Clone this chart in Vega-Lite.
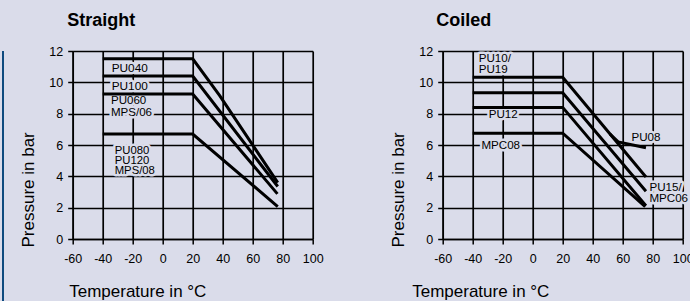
{
  "$schema": "https://vega.github.io/schema/vega-lite/v6.json",
  "background": "#dadcea",
  "padding": {"left": 0, "top": 12, "right": 0, "bottom": 0},
  "spacing": 13.7,
  "config": {
    "view": {"stroke": null},
    "font": "Liberation Sans",
    "axis": {
      "domainColor": "black", "domainWidth": 1.5,
      "tickColor": "black", "tickWidth": 1.5, "tickSize": 5, "tickCount": 30,
      "grid": true, "gridColor": "black", "gridWidth": 1.7, "gridOpacity": 1,
      "labelColor": "black", "labelFont": "Liberation Sans", "labelFontSize": 12.5,
      "labelExpr": "'' + datum.value", "labelFlush": false,
      "titleColor": "black", "titleFont": "Liberation Sans",
      "titleFontSize": 17, "titleFontWeight": "normal"
    },
    "title": {"font": "Liberation Sans", "fontSize": 18, "fontWeight": "bold", "color": "black", "anchor": "start", "frame": "group"}
  },
  "datasets": {
    "straight": [
      {"s": "PU040", "t": -40, "p": 11.5}, {"s": "PU040", "t": 20, "p": 11.5}, {"s": "PU040", "t": 38, "p": 9.15}, {"s": "PU040", "t": 76.7, "p": 3.6},
      {"s": "PU100", "t": -40, "p": 10.4}, {"s": "PU100", "t": 20, "p": 10.4}, {"s": "PU100", "t": 76.7, "p": 3.35},
      {"s": "PU060", "t": -40, "p": 9.25}, {"s": "PU060", "t": 20, "p": 9.25}, {"s": "PU060", "t": 76.5, "p": 2.88},
      {"s": "PU080", "t": -40, "p": 6.7}, {"s": "PU080", "t": 20, "p": 6.7}, {"s": "PU080", "t": 76.7, "p": 2.07}
    ],
    "straightLabels": [
      {"label": "PU040", "t": -34, "p": 10.93, "g": "a"},
      {"label": "PU100", "t": -34, "p": 9.78, "g": "a"},
      {"label": "PU060", "t": -34.5, "p": 8.8, "g": "b"},
      {"label": "MPS/06", "t": -34.5, "p": 8.02, "g": "b"},
      {"label": "PU080", "t": -32, "p": 5.62, "g": "c"},
      {"label": "PU120", "t": -32, "p": 4.98, "g": "c"},
      {"label": "MPS/08", "t": -32, "p": 4.34, "g": "c"}
    ],
    "coiled": [
      {"s": "PU10/PU19", "t": -40, "p": 10.32}, {"s": "PU10/PU19", "t": 20, "p": 10.32}, {"s": "PU10/PU19", "t": 75.5, "p": 3.96},
      {"s": "B", "t": -40, "p": 9.34}, {"s": "B", "t": 20, "p": 9.34}, {"s": "B", "t": 75.5, "p": 3.05},
      {"s": "PU12", "t": -40, "p": 8.4}, {"s": "PU12", "t": 20, "p": 8.4}, {"s": "PU12", "t": 75.5, "p": 2.12},
      {"s": "MPC08", "t": -40, "p": 6.75}, {"s": "MPC08", "t": 20, "p": 6.75}, {"s": "MPC08", "t": 75, "p": 2.07},
      {"s": "PU08", "t": 51.5, "p": 6.7}, {"s": "PU08", "t": 57, "p": 6.2}, {"s": "PU08", "t": 75.5, "p": 5.83}
    ],
    "coiledLabels": [
      {"label": "PU10/", "t": -36, "p": 11.49, "g": "a"},
      {"label": "PU19", "t": -36, "p": 10.79, "g": "a"},
      {"label": "PU12", "t": -29.3, "p": 7.91, "g": "a"},
      {"label": "MPC08", "t": -34.2, "p": 5.96, "g": "a"},
      {"label": "PU08", "t": 65.8, "p": 6.47, "g": "a"},
      {"label": "PU15/", "t": 77.8, "p": 3.23, "g": "a"},
      {"label": "MPC06", "t": 77.8, "p": 2.55, "g": "a"}
    ]
  },
  "hconcat": [
    {
      "width": 2, "height": 288,
      "data": {"values": [{"k": 1}]},
      "mark": {"type": "point", "opacity": 0},
      "encoding": {},
      "view": {"fill": "#0e4a7e", "stroke": null}
    },
    {
      "spacing": 66,
      "hconcat": [
        {
          "width": 240, "height": 188,
          "title": {"text": "Straight", "dx": -5.5, "offset": 15},
          "layer": [
            {
              "data": {"name": "straightLabels"},
              "mark": {"type": "text", "align": "left", "baseline": "middle", "fill": "#dadcea", "stroke": "#dadcea", "strokeWidth": 5, "strokeJoin": "round"},
              "encoding": {
                "x": {"field": "t", "type": "quantitative", "scale": {"domain": [-60, 100], "nice": false},
                  "axis": {"values": [-60, -40, -20, 0, 20, 40, 60, 80, 100], "title": "Temperature in °C", "titleAnchor": "start", "titleAlign": "left", "titleX": -4, "titlePadding": 19, "labelPadding": 8}},
                "y": {"field": "p", "type": "quantitative", "scale": {"domain": [0, 12], "nice": false},
                  "axis": {"values": [0, 2, 4, 6, 8, 10, 12], "title": "Pressure in bar", "titleAnchor": "start", "titleAlign": "left", "titleY": 196, "titlePadding": 11, "labelPadding": 5}},
                "text": {"field": "label"},
                "size": {"field": "g", "type": "nominal", "scale": {"domain": ["a", "b", "c"], "range": [11.8, 11.3, 10]}, "legend": null}
              }
            },
            {
              "data": {"name": "straight"},
              "mark": {"type": "line", "color": "black", "strokeWidth": 3, "strokeCap": "butt", "strokeJoin": "miter"},
              "encoding": {
                "x": {"field": "t", "type": "quantitative"},
                "y": {"field": "p", "type": "quantitative"},
                "detail": {"field": "s"}
              }
            },
            {
              "data": {"name": "straightLabels"},
              "mark": {"type": "text", "align": "left", "baseline": "middle", "color": "black"},
              "encoding": {
                "x": {"field": "t", "type": "quantitative"},
                "y": {"field": "p", "type": "quantitative"},
                "text": {"field": "label"},
                "size": {"field": "g", "type": "nominal", "scale": {"domain": ["a", "b", "c"], "range": [11.8, 11.3, 10]}, "legend": null}
              }
            }
          ]
        },
        {
          "width": 240, "height": 188,
          "title": {"text": "Coiled", "dx": -6.5, "offset": 15},
          "layer": [
            {
              "data": {"name": "coiledLabels"},
              "mark": {"type": "text", "align": "left", "baseline": "middle", "fill": "#dadcea", "stroke": "#dadcea", "strokeWidth": 5, "strokeJoin": "round", "fontSize": 11.6},
              "encoding": {
                "x": {"field": "t", "type": "quantitative", "scale": {"domain": [-60, 100], "nice": false},
                  "axis": {"values": [-60, -40, -20, 0, 20, 40, 60, 80, 100], "title": "Temperature in °C", "titleAnchor": "start", "titleAlign": "left", "titleX": -31, "titlePadding": 19, "labelPadding": 8}},
                "y": {"field": "p", "type": "quantitative", "scale": {"domain": [0, 12], "nice": false},
                  "axis": {"values": [0, 2, 4, 6, 8, 10, 12], "title": "Pressure in bar", "titleAnchor": "start", "titleAlign": "left", "titleY": 196, "titlePadding": 11, "labelPadding": 5}},
                "text": {"field": "label"}
              }
            },
            {
              "data": {"name": "coiled"},
              "mark": {"type": "line", "color": "black", "strokeWidth": 3, "strokeCap": "butt", "strokeJoin": "miter"},
              "encoding": {
                "x": {"field": "t", "type": "quantitative"},
                "y": {"field": "p", "type": "quantitative"},
                "detail": {"field": "s"}
              }
            },
            {
              "data": {"name": "coiledLabels"},
              "mark": {"type": "text", "align": "left", "baseline": "middle", "color": "black", "fontSize": 11.6},
              "encoding": {
                "x": {"field": "t", "type": "quantitative"},
                "y": {"field": "p", "type": "quantitative"},
                "text": {"field": "label"}
              }
            }
          ]
        }
      ]
    }
  ]
}
